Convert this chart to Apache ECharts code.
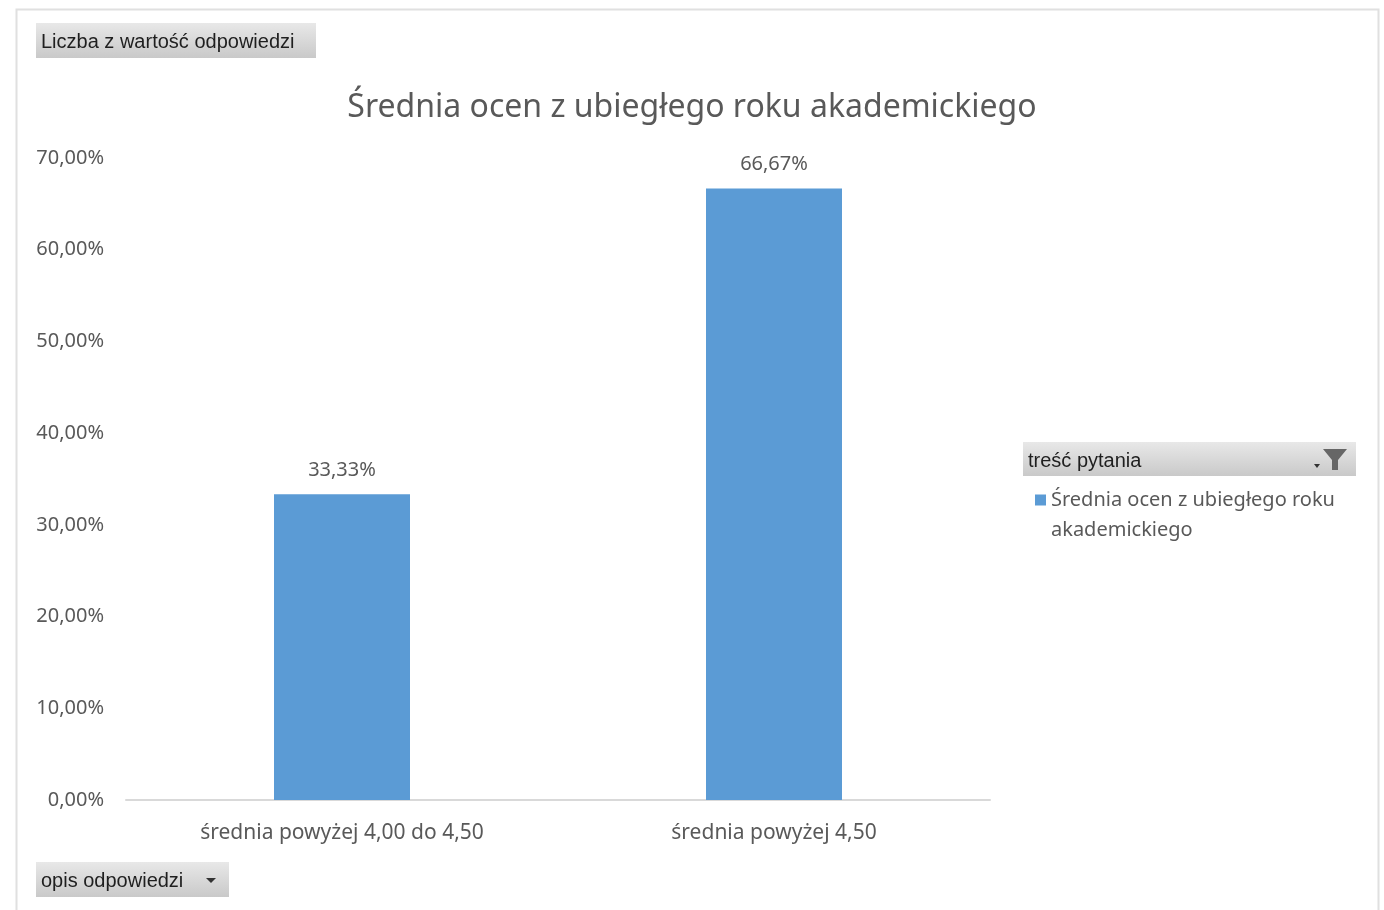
<!DOCTYPE html>
<html>
<head>
<meta charset="utf-8">
<script src="https://cdn.jsdelivr.net/npm/echarts@6/dist/echarts.min.js"></script>
<style>
  html, body { margin: 0; padding: 0; background: #fff; }
  #chart { width: 1384px; height: 910px; }
</style>
</head>
<body>
<div id="chart"></div>
<script>
var categories = ['średnia powyżej 4,00 do 4,50', 'średnia powyżej 4,50'];
var seriesName = 'Średnia ocen z ubiegłego roku akademickiego';
var values = [33.33, 66.67];
var yTicks = { min: 0, max: 70, interval: 10 };

var chart = echarts.init(document.getElementById('chart'));

var btnFill = new echarts.graphic.LinearGradient(0, 0, 0, 1, [
  { offset: 0, color: '#e8e8e8' },
  { offset: 1, color: '#c9c9c9' }
]);
var btnFont = '20px "Liberation Sans Narrow", "Liberation Sans", sans-serif';
var mainFont = '"Noto Sans", "Open Sans", sans-serif';

function fmt(v) {
  return v.toFixed(2).replace('.', ',') + '%';
}

var option = {
  backgroundColor: '#fff',
  title: {
    text: seriesName,
    left: 'center',
    top: 87,
    textStyle: { fontFamily: mainFont, fontSize: 32, fontWeight: 'normal', color: '#595959' }
  },
  grid: { left: 126, right: 394, top: 158, bottom: 110 },
  legend: {
    data: [seriesName],
    left: 1030,
    top: 450,
    icon: 'rect',
    itemWidth: 11,
    itemHeight: 11,
    // blank first line keeps the marker level with the first text line
    formatter: function () { return ' \nŚrednia ocen z ubiegłego roku\nakademickiego'; },
    textStyle: { fontFamily: mainFont, fontSize: 20, color: '#595959', lineHeight: 30 }
  },
  xAxis: {
    type: 'category',
    data: categories,
    axisLine: { lineStyle: { color: '#d9d9d9', width: 2 } },
    axisTick: { show: false },
    axisLabel: { fontFamily: mainFont, fontSize: 21, color: '#595959', margin: 23 }
  },
  yAxis: {
    type: 'value',
    min: yTicks.min,
    max: yTicks.max,
    interval: yTicks.interval,
    splitLine: { show: false },
    axisLine: { show: false },
    axisLabel: {
      fontFamily: mainFont, fontSize: 20, color: '#595959', margin: 22,
      formatter: function (v) { return fmt(v); }
    }
  },
  series: [{
    name: seriesName,
    type: 'bar',
    data: values,
    barWidth: 136,
    itemStyle: { color: '#5b9bd5' },
    label: {
      show: true,
      position: 'top',
      distance: 14,
      fontFamily: mainFont,
      fontSize: 20,
      color: '#595959',
      formatter: function (p) { return fmt(p.value); }
    }
  }],
  graphic: [
    {
      type: 'rect', left: 14, top: 7,
      shape: { width: 1362, height: 920 },
      style: { fill: 'none', stroke: '#e0e0e0', lineWidth: 2 }
    },
    {
      type: 'group', left: 36, top: 23,
      children: [
        { type: 'rect', shape: { width: 280, height: 35 }, style: { fill: btnFill } },
        { type: 'text', left: 5, top: 9, style: { text: 'Liczba z wartość odpowiedzi', font: btnFont, fill: '#1f1f1f' } }
      ]
    },
    {
      type: 'group', left: 36, top: 862,
      children: [
        { type: 'rect', shape: { width: 193, height: 35 }, style: { fill: btnFill } },
        { type: 'text', left: 5, top: 9, style: { text: 'opis odpowiedzi', font: btnFont, fill: '#1f1f1f' } },
        { type: 'polygon', shape: { points: [[170, 16], [180, 16], [175, 21]] }, style: { fill: '#333' } }
      ]
    },
    {
      type: 'group', left: 1023, top: 442,
      children: [
        { type: 'rect', shape: { width: 333, height: 34 }, style: { fill: btnFill } },
        { type: 'text', left: 5, top: 9, style: { text: 'treść pytania', font: btnFont, fill: '#1f1f1f' } },
        { type: 'polygon', shape: { points: [[300, 7], [324, 7], [315, 18], [315, 28], [309, 28], [309, 18]] }, style: { fill: '#666' } },
        { type: 'polygon', shape: { points: [[291, 22], [297, 22], [294, 26]] }, style: { fill: '#333' } }
      ]
    }
  ]
};

chart.setOption(option);
</script>
</body>
</html>
